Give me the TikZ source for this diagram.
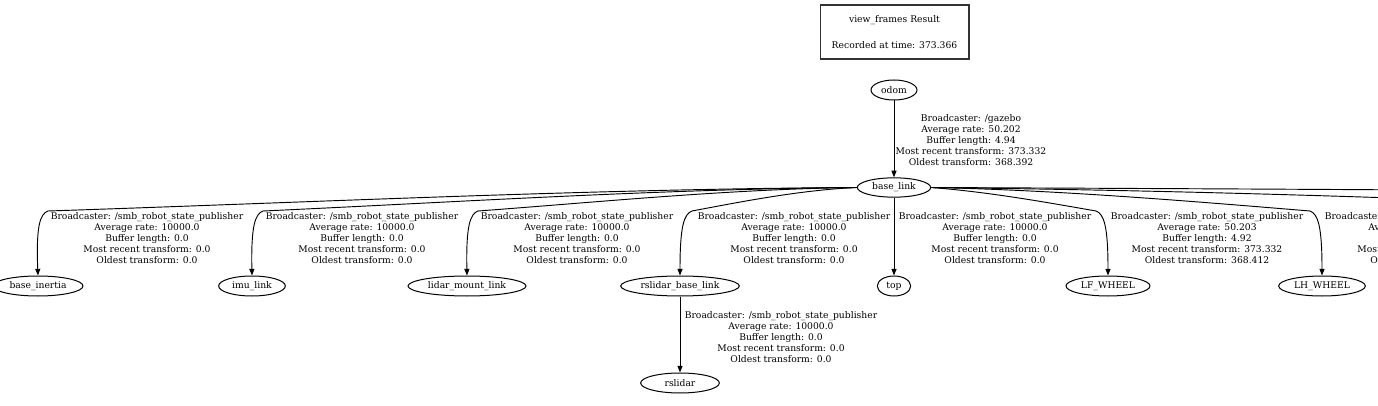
\documentclass[tikz,border=0pt]{standalone}
\usepackage{fontspec}
\setmainfont{DejaVu Serif}
\usepackage{xcolor}
\usepackage{tikz}
\usetikzlibrary{calc,shapes.geometric,arrows.meta}
\definecolor{ink}{HTML}{000000}
\definecolor{boxline}{HTML}{333333}
\definecolor{paper}{HTML}{FFFFFF}
\newcommand{\tfsize}{\fontsize{6.9}{8.25}\selectfont}
\newcommand{\smbinfo}{Broadcaster: /smb\_robot\_state\_publisher\\Average rate: 10000.0\\Buffer length: 0.0\\Most recent transform: 0.0\\Oldest transform: 0.0}
\tikzset{
  frame/.style={ellipse, draw=ink, line width=0.75pt, inner sep=0pt, minimum height=15pt, text=ink, font=\tfsize},
  tf/.style={draw=ink, line width=0.7pt, -{Triangle[length=5pt,width=3.8pt]}},
  info/.style={align=center, inner sep=0pt, text=ink, font=\tfsize},
  result/.style={draw=boxline, line width=1pt, align=center, inner sep=0pt, minimum width=111.5pt, minimum height=40.5pt, text=ink, font=\tfsize},
}

\begin{document}
\begin{tikzpicture}[x=0.75pt,y=-0.75pt]
  \useasboundingbox[fill=paper] (0,0) rectangle (1378,406);
  \clip (0,0) rectangle (1378,406);
  \node[result] (res) at (894.5,32) {view\_frames Result\\[11.25pt]Recorded at time: 373.366};
  % frames
  \node[frame, minimum width=34.5pt] (odom) at (894,90) {odom};
  \node[frame, minimum width=55pt, minimum height=14.5pt] (bl) at (894,187.5) {base\_link};
  \node[frame, minimum width=67.5pt] (bi) at (38,286) {base\_inertia};
  \node[frame, minimum width=50pt] (imu) at (252,286) {imu\_link};
  \node[frame, minimum width=88.5pt] (lml) at (467,286) {lidar\_mount\_link};
  \node[frame, minimum width=89pt] (rbl) at (680,286) {rslidar\_base\_link};
  \node[frame, minimum width=25pt] (top) at (894,286) {top};
  \node[frame, minimum width=63pt] (lfw) at (1108,286) {LF\_WHEEL};
  \node[frame, minimum width=65pt] (lhw) at (1322,286) {LH\_WHEEL};
  \node[frame, minimum width=59pt] (rsl) at (680,383) {rslidar};
  \coordinate (off1) at (1530,203);
  \coordinate (off2) at (1760,193);
  % transforms
  \draw[tf] (odom) -- (bl);
  \draw[tf] (bl.west) .. controls (590,189) and (320,202) .. (48,211) .. controls (40,214) and (36,226) .. (bi.north);
  \draw[tf] (bl.west) .. controls (660,189) and (460,202) .. (263,211) .. controls (255,214) and (251,226) .. (imu.north);
  \draw[tf] (bl.west) .. controls (730,189) and (600,202) .. (478,211) .. controls (470,214) and (466,226) .. (lml.north);
  \draw[tf] (bl.west) .. controls (800,190) and (740,202) .. (692,211) .. controls (684,214) and (680,226) .. (rbl.north);
  \draw[tf] (bl) -- (top);
  \draw[tf] (bl.east) .. controls (990,192) and (1050,203) .. (1096,211) .. controls (1104,214) and (1108,226) .. (lfw.north);
  \draw[tf] (bl.east) .. controls (1060,190) and (1200,202) .. (1310,211) .. controls (1318,214) and (1322,226) .. (lhw.north);
  \draw[tf] (bl.east) .. controls (1150,190) and (1350,196) .. (off1);
  \draw[tf] (bl.east) .. controls (1250,189) and (1500,190) .. (off2);
  \draw[tf] (rbl) -- (rsl);
  % edge labels
  \node[info] (i0) at (971,140) {Broadcaster: /gazebo\\Average rate: 50.202\\Buffer length: 4.94\\Most recent transform: 373.332\\Oldest transform: 368.392};
  \node[info] (i1) at (147,238) {\smbinfo};
  \node[info] (i2) at (362,238) {\smbinfo};
  \node[info] (i3) at (577,238) {\smbinfo};
  \node[info] (i4) at (794,238) {\smbinfo};
  \node[info] (i5) at (995,238) {\smbinfo};
  \node[info] (i6) at (1207,238) {Broadcaster: /smb\_robot\_state\_publisher\\Average rate: 50.203\\Buffer length: 4.92\\Most recent transform: 373.332\\Oldest transform: 368.412};
  \node[info] (i7) at (1421,238) {\smbinfo};
  \node[info] (i8) at (781,337) {\smbinfo};
\end{tikzpicture}
\end{document}
